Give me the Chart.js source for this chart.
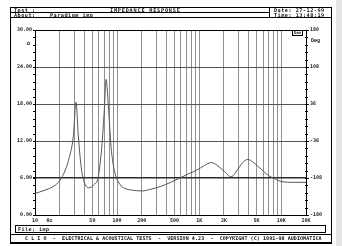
<!DOCTYPE html>
<html>
<head>
<meta charset="utf-8">
<script src="https://cdn.jsdelivr.net/npm/chart.js@4"></script>
<style>
  body { margin: 0; width: 342px; height: 246px; background: #fff; position: relative; overflow: hidden;
         font-family: "DejaVu Sans Mono", monospace; font-weight: bold; color: #111; }
  #wrap { position: absolute; left: 0; top: 0; width: 342px; height: 246px; }
  .t { position: absolute; white-space: pre; font-size: 5.2px; line-height: 5px; letter-spacing: 0.5px; }
  .s { position: absolute; white-space: pre; font-size: 5px; line-height: 5px; }
  .ln { position: absolute; background: #000; }
</style>
</head>
<body>
<div id="wrap"><canvas id="chart"></canvas></div>

<!-- frame -->
<div style="position:absolute;left:10px;top:7px;width:320px;height:234px;border:1px solid #000;border-bottom-width:2px"></div>
<div class="ln" style="left:10px;top:12px;width:259px;height:1px"></div>
<div class="ln" style="left:269px;top:7px;width:1px;height:11px"></div>
<div class="ln" style="left:10px;top:17px;width:321px;height:1px"></div>
<div style="position:absolute;right:0;top:0;width:6px;height:246px;background:#e4e4e4"></div>

<!-- header -->
<div class="t" style="left:14px;top:7.6px">Test :</div>
<div class="t" style="left:14px;top:12.6px">About:</div>
<div class="t" style="left:50px;top:12.6px">Paradigm imp</div>
<div class="t" style="left:110px;top:7.6px;letter-spacing:0.8px">IMPEDANCE RESPONSE</div>
<div class="t" style="left:274px;top:7.6px">Date: 27-12-09</div>
<div class="t" style="left:274px;top:12.6px">Time: 13:48:19</div>

<!-- axis units -->
<div class="s" style="left:27px;top:41px">Ω</div>
<div class="s" style="left:311px;top:38px">Deg</div>
<div class="s" style="left:292px;top:30px;font-size:4px;line-height:4px;border:1px solid #000;padding:0 1px">Dev</div>

<!-- footer -->
<div style="position:absolute;left:15px;top:225px;width:309px;height:6px;border:1px solid #000"></div>
<div class="s" style="left:18px;top:226.5px;letter-spacing:0.5px">File: imp</div>
<div class="ln" style="left:10px;top:234px;width:321px;height:1px"></div>
<div class="s" style="left:25px;top:236px;letter-spacing:0.08px">C L I O  -  ELECTRICAL &amp; ACOUSTICAL TESTS  -  VERSION 4.23  -  COPYRIGHT (C) 1991-98 AUDIOMATICA</div>

<script>
// impedance curve (Hz / Ohm)
const freqs = [10, 13, 17.5, 21, 25.5, 29.3, 31.6, 33.7, 37, 40.7, 45, 52, 59, 65, 69.5, 73.5, 78, 84.5, 92.7,
               108, 125, 160, 200, 260, 334, 450, 560, 750, 937, 1150, 1400, 1640, 1975, 2450, 3010, 3500,
               3925, 4500, 5290, 7000, 8500, 10200, 14000, 17800, 20000];
const ohms = [3.5, 4.0, 4.8, 6.0, 8.8, 12.8, 18.3, 12.8, 7.2, 5.0, 4.4, 4.9, 6.2, 11.0, 16.5, 22.0, 18.0, 11.0, 7.2,
              5.0, 4.3, 4.0, 3.9, 4.2, 4.6, 5.3, 5.9, 6.7, 7.3, 8.0, 8.5, 8.1, 7.2, 6.2, 7.6, 8.7,
              9.0, 8.6, 7.8, 6.4, 5.8, 5.4, 5.3, 5.3, 5.3];

// axes
const xGridValues = [10, 15, 20, 30, 40, 50, 60, 70, 80, 90, 100, 200, 300, 400, 500, 600, 700, 800, 900,
                     1000, 2000, 3000, 4000, 5000, 6000, 7000, 8000, 9000, 10000, 20000];
const xLabelValues = [10, 15, 50, 100, 200, 500, 1000, 2000, 5000, 10000, 20000];
const xLabelTexts = ["10", "Hz", "50", "100", "200", "500", "1K", "2K", "5K", "10K", "20K"];
const ohmTicks = [0, 6, 12, 18, 24, 30];
const degTicks = [-180, -108, -36, 36, 108, 180];

const FONT = { family: "DejaVu Sans Mono", size: 5, weight: "bold" };

// small minor tick marks on both vertical axes
const minorTicks = {
    id: "minorTicks",
    afterDraw(chart) {
        const c = chart.ctx, a = chart.chartArea, y = chart.scales.y;
        c.save();
        c.strokeStyle = "#000";
        c.lineWidth = 1;
        for (let i = 0; i <= 25; i++) {
            const py = Math.round(y.getPixelForValue(i * 1.2)) + 0.5;
            c.beginPath();
            c.moveTo(a.left - 2, py); c.lineTo(a.left, py);
            c.moveTo(a.right - 1, py); c.lineTo(a.right + 2, py);
            c.stroke();
        }
        c.restore();
    }
};

new Chart(document.getElementById("chart"), {
    type: "line",
    data: {
        datasets: [{
            data: freqs.map((f, i) => ({ x: f, y: ohms[i] })),
            borderColor: "#555",
            borderWidth: 1,
            pointRadius: 0,
            cubicInterpolationMode: "monotone",
            yAxisID: "y"
        }]
    },
    options: {
        responsive: true,
        maintainAspectRatio: false,
        animation: false,
        layout: { padding: { top: 30, left: 0, right: 0, bottom: 0 } },
        plugins: { legend: { display: false }, tooltip: { enabled: false } },
        scales: {
            x: {
                type: "logarithmic",
                min: 10,
                max: 20000,
                afterBuildTicks: s => { s.ticks = xGridValues.map(v => ({ value: v })); },
                afterFit: s => { s.height = 31; },
                ticks: {
                    autoSkip: false,
                    maxRotation: 0,
                    padding: 3,
                    color: "#222",
                    font: FONT,
                    callback: v => {
                        const i = xLabelValues.indexOf(v);
                        return i >= 0 ? xLabelTexts[i] : "";
                    }
                },
                grid: {
                    drawTicks: false,
                    lineWidth: 1,
                    color: ctx => (ctx.tick && ctx.tick.value === 15) ? "rgba(0,0,0,0)" : "#909090"
                },
                border: { color: "#000", width: 1 }
            },
            y: {
                position: "left",
                min: 0,
                max: 30,
                afterBuildTicks: s => { s.ticks = ohmTicks.map(v => ({ value: v })); },
                afterFit: s => { s.width = 35; },
                ticks: { padding: 1, color: "#222", font: FONT, callback: v => v.toFixed(2) },
                grid: {
                    tickLength: 2,
                    tickColor: "#000",
                    color: ctx => {
                        const v = ctx.tick ? ctx.tick.value : 0;
                        if (v === 30 || v === 0) return "#000";
                        return v === 6 ? "#2a2a2a" : "#555";
                    },
                    lineWidth: ctx => (ctx.tick && ctx.tick.value === 6) ? 1.6 : 1
                },
                border: { color: "#000", width: 1 }
            },
            y2: {
                position: "right",
                min: -180,
                max: 180,
                afterBuildTicks: s => { s.ticks = degTicks.map(v => ({ value: v })); },
                afterFit: s => { s.width = 36; },
                ticks: { padding: 1, color: "#222", font: FONT, callback: v => String(v) },
                grid: { drawOnChartArea: false, tickLength: 3, tickColor: "#000" },
                border: { color: "#000", width: 1 }
            }
        }
    },
    plugins: [minorTicks]
});
</script>
</body>
</html>
